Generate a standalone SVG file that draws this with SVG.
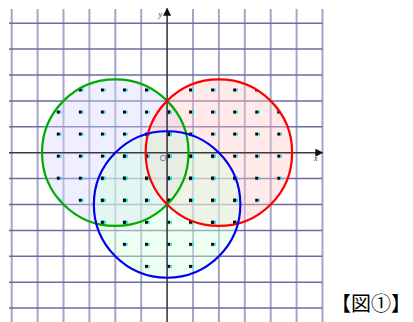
<svg xmlns="http://www.w3.org/2000/svg" width="413" height="322" viewBox="0 0 413 322">
<style>
.gv{stroke:#a4a4cc;stroke-width:2;}
.gh{stroke:#6c6ca0;stroke-width:1.5;}
.axis{stroke:#3a3a48;stroke-width:1.6;}
.circ{fill:none;stroke-width:2.2;}
.lbl{font-family:"Liberation Serif",serif;font-style:italic;font-size:8px;fill:#333;}
</style>
<defs>
<pattern id="dots" patternUnits="userSpaceOnUse" x="56.8" y="88.5" width="22.05" height="22.05">
<rect x="0" y="0" width="3" height="3" fill="#000"/>
<rect x="3" y="0" width="1.6" height="3" fill="#00e5ee"/>
</pattern>
<marker id="arr" viewBox="0 0 10 10" refX="9" refY="5" markerWidth="8" markerHeight="8" markerUnits="userSpaceOnUse" orient="auto">
<path d="M0,0 L10,5 L0,10 Z" fill="#111"/>
</marker>
</defs>
<rect width="413" height="322" fill="#fff"/>
<g id="grid">
<g class="gv">
<line x1="11.7" y1="9" x2="11.7" y2="322"/>
<line x1="37.6" y1="9" x2="37.6" y2="322"/>
<line x1="63.5" y1="9" x2="63.5" y2="322"/>
<line x1="89.4" y1="9" x2="89.4" y2="322"/>
<line x1="115.3" y1="9" x2="115.3" y2="322"/>
<line x1="141.2" y1="9" x2="141.2" y2="322"/>
<line x1="193" y1="9" x2="193" y2="322"/>
<line x1="218.9" y1="9" x2="218.9" y2="322"/>
<line x1="244.8" y1="9" x2="244.8" y2="322"/>
<line x1="270.7" y1="9" x2="270.7" y2="322"/>
<line x1="296.6" y1="9" x2="296.6" y2="322"/>
<line x1="322.5" y1="9" x2="322.5" y2="322"/>
</g>
<g class="gh">
<line x1="9" y1="23.2" x2="322.5" y2="23.2"/>
<line x1="9" y1="49.1" x2="322.5" y2="49.1"/>
<line x1="9" y1="75" x2="322.5" y2="75"/>
<line x1="9" y1="100.9" x2="322.5" y2="100.9"/>
<line x1="9" y1="126.8" x2="322.5" y2="126.8"/>
<line x1="9" y1="178.6" x2="322.5" y2="178.6"/>
<line x1="9" y1="204.5" x2="322.5" y2="204.5"/>
<line x1="9" y1="230.4" x2="322.5" y2="230.4"/>
<line x1="9" y1="256.3" x2="322.5" y2="256.3"/>
<line x1="9" y1="282.2" x2="322.5" y2="282.2"/>
<line x1="9" y1="308.1" x2="322.5" y2="308.1"/>
</g>
</g>
<g id="fills">
<circle cx="115.3" cy="152.7" r="73.26" fill="#d8d8ff" fill-opacity="0.4"/>
<circle cx="218.9" cy="152.7" r="73.26" fill="#ffc8c8" fill-opacity="0.4"/>
<circle cx="167.1" cy="204.5" r="73.26" fill="#d8ffe0" fill-opacity="0.45"/>
</g>
<g id="dotfill">
<circle cx="115.3" cy="152.7" r="73.26" fill="url(#dots)"/>
<circle cx="218.9" cy="152.7" r="73.26" fill="url(#dots)"/>
<circle cx="167.1" cy="204.5" r="73.26" fill="url(#dots)"/>
</g>
<g id="axes">
<line class="axis" x1="9" y1="152.7" x2="322.5" y2="152.7" marker-end="url(#arr)"/>
<line class="axis" x1="167.1" y1="322" x2="167.1" y2="8.5" marker-end="url(#arr)"/>
<text class="lbl" x="314" y="161">x</text>
<text class="lbl" x="158.5" y="17">y</text>
<text x="159.5" y="160.5" font-family="Liberation Sans, sans-serif" font-size="9" fill="#777">O</text>
</g>
<g id="circle-green"><circle class="circ" cx="115.3" cy="152.7" r="73.26" stroke="#00aa00"/></g>
<g id="circle-red"><circle class="circ" cx="218.9" cy="152.7" r="73.26" stroke="#ff0000"/></g>
<g id="circle-blue"><circle class="circ" cx="167.1" cy="204.5" r="73.26" stroke="#0000ee"/></g>
<g id="caption">
<text x="331" y="311" font-family="Noto Sans CJK JP, sans-serif" font-size="20" fill="#000">【図①】</text>
</g>
</svg>
